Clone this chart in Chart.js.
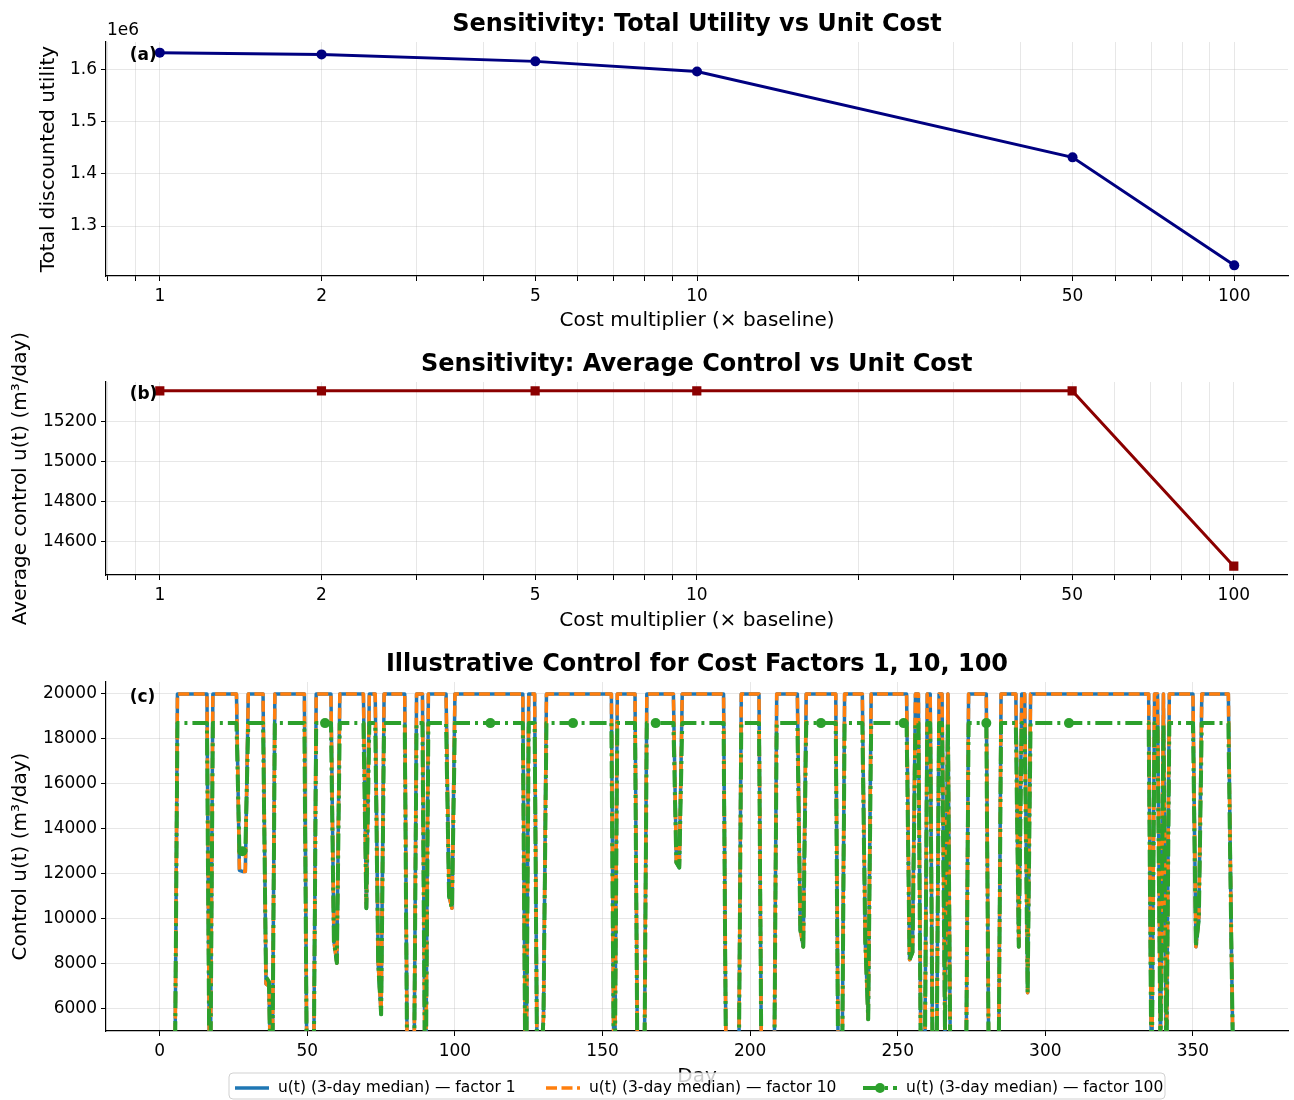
<!DOCTYPE html>
<html>
<head>
<meta charset="utf-8">
<script src="https://cdn.jsdelivr.net/npm/chart.js@4.4.1/dist/chart.umd.min.js"></script>
<style>
  html, body { margin: 0; padding: 0; background: #fff; }
  .panel { position: absolute; left: 0; width: 1294px; }
</style>
</head>
<body>
<div class="panel" style="top:0;height:336px"><canvas id="utilityChart"></canvas></div>
<div class="panel" style="top:320px;height:315px"><canvas id="controlChart"></canvas></div>
<div class="panel" style="top:640px;height:460px"><canvas id="dailyChart"></canvas></div>
<script>
// Sensitivity runs (cost multiplier x baseline)
const costMultipliers = [1, 2, 5, 10, 50, 100];
const totalUtility = [1632000, 1628700, 1615300, 1596000, 1431500, 1224700];
const avgControl = [15354, 15354, 15354, 15354, 15354, 14475];

// Tick labels
const costMajorTicks = [1, 2, 5, 10, 50, 100];
const costMinorTicks = [0.8, 0.9, 3, 4, 6, 7, 8, 9, 20, 30, 40, 60, 70, 80, 90];
const utilityTicks = [1300000, 1400000, 1500000, 1600000];
const avgControlTicks = [14600, 14800, 15000, 15200];
const dayTicks = [0, 50, 100, 150, 200, 250, 300, 350];
const controlTicks = [6000, 8000, 10000, 12000, 14000, 16000, 18000, 20000];

// Daily control u(t), days 0..364 (10 per row)
const controlFactor1 = [
      0,     0,     0,     0,     0,     0, 20000, 20000, 20000, 20000, // 0
  20000, 20000, 20000, 20000, 20000, 20000, 20000,     0, 20000, 20000, // 10
  20000, 20000, 20000, 20000, 20000, 20000, 20000, 12150, 12100, 12100, // 20
  20000, 20000, 20000, 20000, 20000, 20000,  7100,  7000,     0, 20000, // 30
  20000, 20000, 20000, 20000, 20000, 20000, 20000, 20000, 20000, 20000, // 40
      0,     0,     0, 20000, 20000, 20000, 20000, 20000, 20000,  9000, // 50
   8030, 20000, 20000, 20000, 20000, 20000, 20000, 20000, 20000, 20000, // 60
  10460, 20000, 20000, 20000,  8000,  5740, 20000, 20000, 20000, 20000, // 70
  20000, 20000, 20000, 20000,     0,     0,     0, 20000, 20000, 20000, // 80
      0, 20000, 20000, 20000, 20000, 20000, 20000, 20000, 11000, 10460, // 90
  20000, 20000, 20000, 20000, 20000, 20000, 20000, 20000, 20000, 20000, // 100
  20000, 20000, 20000, 20000, 20000, 20000, 20000, 20000, 20000, 20000, // 110
  20000, 20000, 20000, 20000,     0, 20000, 20000, 20000,     0,  3000, // 120
   5600, 20000, 20000, 20000, 20000, 20000, 20000, 20000, 20000, 20000, // 130
  20000, 20000, 20000, 20000, 20000, 20000, 20000, 20000, 20000, 20000, // 140
  20000, 20000, 20000, 20000,     0, 20000, 20000, 20000, 20000, 20000, // 150
  20000, 20000,     0,     0,     0, 20000, 20000, 20000, 20000, 20000, // 160
  20000, 20000, 20000, 20000, 20000, 12500, 12270, 20000, 20000, 20000, // 170
  20000, 20000, 20000, 20000, 20000, 20000, 20000, 20000, 20000, 20000, // 180
  20000, 20000,     0,     0,     0,     0,     0, 20000, 20000, 20000, // 190
  20000, 20000, 20000, 20000,     0,     0,     0,     0,     0, 20000, // 200
  20000, 20000, 20000, 20000, 20000, 20000, 20000,  9500,  8750, 20000, // 210
  20000, 20000, 20000, 20000, 20000, 20000, 20000, 20000, 20000, 20000, // 220
      0,     0, 20000, 20000, 20000, 20000, 20000, 20000, 20000,  9000, // 230
   5520, 20000, 20000, 20000, 20000, 20000, 20000, 20000, 20000, 20000, // 240
  20000, 20000, 20000, 20000,  8170,  8500, 20000, 20000,     0,     0, // 250
  20000, 20000,     0,     0, 20000, 20000,  5000, 20000,     0,     0, // 260
      0,     0,     0,     0, 20000, 20000, 20000, 20000, 20000, 20000, // 270
  20000,     0,     0,     0,     0, 20000, 20000, 20000, 20000, 20000, // 280
  20000,  8750, 20000, 20000,  6700, 20000, 20000, 20000, 20000, 20000, // 290
  20000, 20000, 20000, 20000, 20000, 20000, 20000, 20000, 20000, 20000, // 300
  20000, 20000, 20000, 20000, 20000, 20000, 20000, 20000, 20000, 20000, // 310
  20000, 20000, 20000, 20000, 20000, 20000, 20000, 20000, 20000, 20000, // 320
  20000, 20000, 20000, 20000, 20000, 20000,  2000, 20000, 20000,  4000, // 330
  20000,  3000, 20000, 20000, 20000, 20000, 20000, 20000, 20000, 20000, // 340
  20000,  8750, 10000, 20000, 20000, 20000, 20000, 20000, 20000, 20000, // 350
  20000, 20000, 20000,  9000,     0                                      // 360
];

const controlFactor10 = [
      0,     0,     0,     0,     0,     0, 20000, 20000, 20000, 20000, // 0
  20000, 20000, 20000, 20000, 20000, 20000, 20000,     0, 20000, 20000, // 10
  20000, 20000, 20000, 20000, 20000, 20000, 20000, 12150, 12100, 12100, // 20
  20000, 20000, 20000, 20000, 20000, 20000,  7100,  7000,     0, 20000, // 30
  20000, 20000, 20000, 20000, 20000, 20000, 20000, 20000, 20000, 20000, // 40
      0,     0,     0, 20000, 20000, 20000, 20000, 20000, 20000,  9000, // 50
   8030, 20000, 20000, 20000, 20000, 20000, 20000, 20000, 20000, 20000, // 60
  10460, 20000, 20000, 20000,  8000,  5740, 20000, 20000, 20000, 20000, // 70
  20000, 20000, 20000, 20000,     0,     0,     0, 20000, 20000, 20000, // 80
      0, 20000, 20000, 20000, 20000, 20000, 20000, 20000, 11000, 10460, // 90
  20000, 20000, 20000, 20000, 20000, 20000, 20000, 20000, 20000, 20000, // 100
  20000, 20000, 20000, 20000, 20000, 20000, 20000, 20000, 20000, 20000, // 110
  20000, 20000, 20000, 20000,     0, 20000, 20000, 20000,     0,  3000, // 120
   5600, 20000, 20000, 20000, 20000, 20000, 20000, 20000, 20000, 20000, // 130
  20000, 20000, 20000, 20000, 20000, 20000, 20000, 20000, 20000, 20000, // 140
  20000, 20000, 20000, 20000,     0, 20000, 20000, 20000, 20000, 20000, // 150
  20000, 20000,     0,     0,     0, 20000, 20000, 20000, 20000, 20000, // 160
  20000, 20000, 20000, 20000, 20000, 12500, 12270, 20000, 20000, 20000, // 170
  20000, 20000, 20000, 20000, 20000, 20000, 20000, 20000, 20000, 20000, // 180
  20000, 20000,     0,     0,     0,     0,     0, 20000, 20000, 20000, // 190
  20000, 20000, 20000, 20000,     0,     0,     0,     0,     0, 20000, // 200
  20000, 20000, 20000, 20000, 20000, 20000, 20000,  9500,  8750, 20000, // 210
  20000, 20000, 20000, 20000, 20000, 20000, 20000, 20000, 20000, 20000, // 220
      0,     0, 20000, 20000, 20000, 20000, 20000, 20000, 20000,  9000, // 230
   5520, 20000, 20000, 20000, 20000, 20000, 20000, 20000, 20000, 20000, // 240
  20000, 20000, 20000, 20000,  8170,  8500, 20000, 20000,     0,     0, // 250
  20000, 20000,     0,     0, 20000, 20000,  5000, 20000,     0,     0, // 260
      0,     0,     0,     0, 20000, 20000, 20000, 20000, 20000, 20000, // 270
  20000,     0,     0,     0,     0, 20000, 20000, 20000, 20000, 20000, // 280
  20000,  8750, 20000, 20000,  6700, 20000, 20000, 20000, 20000, 20000, // 290
  20000, 20000, 20000, 20000, 20000, 20000, 20000, 20000, 20000, 20000, // 300
  20000, 20000, 20000, 20000, 20000, 20000, 20000, 20000, 20000, 20000, // 310
  20000, 20000, 20000, 20000, 20000, 20000, 20000, 20000, 20000, 20000, // 320
  20000, 20000, 20000, 20000, 20000, 20000,  2000, 20000, 20000,  4000, // 330
  20000,  3000, 20000, 20000, 20000, 20000, 20000, 20000, 20000, 20000, // 340
  20000,  8750, 10000, 20000, 20000, 20000, 20000, 20000, 20000, 20000, // 350
  20000, 20000, 20000,  9000,     0                                      // 360
];

const controlFactor100 = [
      0,     0,     0,     0,     0,     0, 18700, 18700, 18700, 18700, // 0
  18700, 18700, 18700, 18700, 18700, 18700, 18700,     0, 18700, 18700, // 10
  18700, 18700, 18700, 18700, 18700, 18700, 18700, 13000, 13000, 13000, // 20
  18700, 18700, 18700, 18700, 18700, 18700,  7400,  7200,     0, 18700, // 30
  18700, 18700, 18700, 18700, 18700, 18700, 18700, 18700, 18700, 18700, // 40
      0,     0,     0, 18700, 18700, 18700, 18700, 18700, 18700,  9000, // 50
   8030, 18700, 18700, 18700, 18700, 18700, 18700, 18700, 18700, 18700, // 60
  10460, 18700, 18700, 18700,  8000,  5740, 18700, 18700, 18700, 18700, // 70
  18700, 18700, 18700, 18700,     0,     0,     0, 18700, 18700, 18700, // 80
      0, 18700, 18700, 18700, 18700, 18700, 18700, 18700, 11000, 10460, // 90
  18700, 18700, 18700, 18700, 18700, 18700, 18700, 18700, 18700, 18700, // 100
  18700, 18700, 18700, 18700, 18700, 18700, 18700, 18700, 18700, 18700, // 110
  18700, 18700, 18700, 18700,     0, 18700, 18700, 18700,     0,  3000, // 120
   5600, 18700, 18700, 18700, 18700, 18700, 18700, 18700, 18700, 18700, // 130
  18700, 18700, 18700, 18700, 18700, 18700, 18700, 18700, 18700, 18700, // 140
  18700, 18700, 18700, 18700,     0, 18700, 18700, 18700, 18700, 18700, // 150
  18700, 18700,     0,     0,     0, 18700, 18700, 18700, 18700, 18700, // 160
  18700, 18700, 18700, 18700, 18700, 12500, 12270, 18700, 18700, 18700, // 170
  18700, 18700, 18700, 18700, 18700, 18700, 18700, 18700, 18700, 18700, // 180
  18700, 18700,     0,     0,     0,     0,     0, 18700, 18700, 18700, // 190
  18700, 18700, 18700, 18700,     0,     0,     0,     0,     0, 18700, // 200
  18700, 18700, 18700, 18700, 18700, 18700, 18700,  9500,  8750, 18700, // 210
  18700, 18700, 18700, 18700, 18700, 18700, 18700, 18700, 18700, 18700, // 220
      0,     0, 18700, 18700, 18700, 18700, 18700, 18700, 18700,  9000, // 230
   5520, 18700, 18700, 18700, 18700, 18700, 18700, 18700, 18700, 18700, // 240
  18700, 18700, 18700, 18700,  8170,  8500, 18700, 18700,     0,     0, // 250
  18700, 18700,     0,     0, 18700, 18700,  5000, 18700,     0,     0, // 260
      0,     0,     0,     0, 18700, 18700, 18700, 18700, 18700, 18700, // 270
  18700,     0,     0,     0,     0, 18700, 18700, 18700, 18700, 18700, // 280
  18700,  8750, 18700, 18700,  6700, 18700, 18700, 18700, 18700, 18700, // 290
  18700, 18700, 18700, 18700, 18700, 18700, 18700, 18700, 18700, 18700, // 300
  18700, 18700, 18700, 18700, 18700, 18700, 18700, 18700, 18700, 18700, // 310
  18700, 18700, 18700, 18700, 18700, 18700, 18700, 18700, 18700, 18700, // 320
  18700, 18700, 18700, 18700, 18700, 18700,  2000, 18700, 18700,  4000, // 330
  18700,  3000, 18700, 18700, 18700, 18700, 18700, 18700, 18700, 18700, // 340
  18700,  8750, 10000, 18700, 18700, 18700, 18700, 18700, 18700, 18700, // 350
  18700, 18700, 18700,  9000,     0                                      // 360
];

Chart.defaults.font.family = '"DejaVu Sans", sans-serif';
Chart.defaults.font.size = 17;
Chart.defaults.color = '#000';

const gridColor = 'rgba(176, 176, 176, 0.3)';

// Draws the "(a)" style panel tag and the optional 1e6 offset text
const panelTag = {
    id: 'panelTag',
    afterDatasetsDraw(chart, args, opts) {
        const { ctx, chartArea } = chart;
        const w = chartArea.right - chartArea.left;
        const h = chartArea.bottom - chartArea.top;
        ctx.save();
        ctx.fillStyle = '#000';
        ctx.font = 'bold 17px "DejaVu Sans"';
        ctx.textBaseline = 'top';
        ctx.fillText(opts.text, chartArea.left + 0.02 * w, chartArea.top + 0.02 * h);
        if (opts.offsetText) {
            ctx.font = '17px "DejaVu Sans"';
            ctx.textBaseline = 'bottom';
            ctx.fillText(opts.offsetText, chartArea.left + 1, chartArea.top - 3);
        }
        ctx.restore();
    }
};

// Legend under panel (c), laid out like the matplotlib one
const dayLegend = {
    id: 'dayLegend',
    afterDraw(chart) {
        const ctx = chart.ctx;
        const left = 229, top = 433, right = 1165, bottom = 459, r = 4;
        const midY = 448;
        const handleX = [235, 546, 863];
        ctx.save();
        ctx.beginPath();
        ctx.moveTo(left + r, top);
        ctx.lineTo(right - r, top);
        ctx.arcTo(right, top, right, top + r, r);
        ctx.lineTo(right, bottom - r);
        ctx.arcTo(right, bottom, right - r, bottom, r);
        ctx.lineTo(left + r, bottom);
        ctx.arcTo(left, bottom, left, bottom - r, r);
        ctx.lineTo(left, top + r);
        ctx.arcTo(left, top, left + r, top, r);
        ctx.closePath();
        ctx.fillStyle = 'rgba(255, 255, 255, 0.8)';
        ctx.fill();
        ctx.strokeStyle = 'rgba(204, 204, 204, 0.9)';
        ctx.lineWidth = 1;
        ctx.stroke();

        chart.data.datasets.forEach((ds, i) => {
            const x0 = handleX[i];
            ctx.beginPath();
            ctx.setLineDash(ds.borderDash || []);
            ctx.strokeStyle = ds.borderColor;
            ctx.lineWidth = ds.borderWidth;
            ctx.moveTo(x0, midY);
            ctx.lineTo(x0 + 34, midY);
            ctx.stroke();
            ctx.setLineDash([]);
            if (ds.legendMarker) {
                ctx.beginPath();
                ctx.fillStyle = ds.borderColor;
                ctx.arc(x0 + 17, midY, 5, 0, Math.PI * 2);
                ctx.fill();
            }
            ctx.fillStyle = '#000';
            ctx.font = '15.5px "DejaVu Sans"';
            ctx.textBaseline = 'middle';
            ctx.fillText(ds.label, x0 + 43, midY);
        });
        ctx.restore();
    }
};

function costAxis(titlePad) {
    return {
        type: 'logarithmic',
        min: 0.794,
        max: 125.9,
        afterFit: (scale) => { scale.height = 60; },
        afterBuildTicks: (scale) => {
            scale.ticks = costMinorTicks.concat(costMajorTicks)
                .sort((a, b) => a - b)
                .map(v => ({ value: v }));
        },
        ticks: {
            autoSkip: false,
            maxRotation: 0,
            padding: 5,
            callback: (v) => costMajorTicks.includes(v) ? String(v) : ''
        },
        grid: { color: gridColor, lineWidth: 1, tickLength: 5, tickColor: '#000', tickWidth: 1 },
        border: { color: '#000', width: 1.2 },
        title: { display: true, text: 'Cost multiplier (× baseline)', font: { size: 20 },
                 padding: { top: 0, bottom: titlePad } }
    };
}

function valueAxis(min, max, tickValues, label, titlePad, fmt) {
    return {
        min: min,
        max: max,
        afterFit: (scale) => { scale.width = 100; },
        afterBuildTicks: (scale) => { scale.ticks = tickValues.map(v => ({ value: v })); },
        ticks: { padding: 4, callback: fmt },
        grid: { color: gridColor, lineWidth: 1, tickLength: 5, tickColor: '#000', tickWidth: 1 },
        border: { color: '#000', width: 1.2 },
        title: { display: true, text: label, font: { size: 20 }, padding: { top: titlePad, bottom: 0 } }
    };
}

// Title centred over the plot area, not the whole canvas
function titleBlock(text) {
    return {
        display: true,
        fullSize: false,
        text: text,
        font: { size: 24, weight: 'bold' },
        color: '#000',
        padding: { top: 10.6, bottom: 2.6 }
    };
}

// (a) total utility
new Chart(document.getElementById('utilityChart'), {
    type: 'line',
    data: {
        datasets: [{
            label: 'Total discounted utility',
            data: costMultipliers.map((m, i) => ({ x: m, y: totalUtility[i] })),
            borderColor: '#000080',
            backgroundColor: '#000080',
            borderWidth: 3,
            pointRadius: 5,
            pointBorderWidth: 0,
            tension: 0
        }]
    },
    options: {
        responsive: true,
        maintainAspectRatio: false,
        animation: false,
        events: [],
        layout: { padding: { left: 6, right: 6, top: 0, bottom: 0 } },
        scales: {
            x: costAxis(3),
            y: valueAxis(1204300, 1652400, utilityTicks, 'Total discounted utility', 31,
                (v) => (v / 1e6).toFixed(1))
        },
        plugins: {
            legend: { display: false },
            tooltip: { enabled: false },
            title: titleBlock('Sensitivity: Total Utility vs Unit Cost'),
            panelTag: { text: '(a)', offsetText: '1e6' }
        }
    },
    plugins: [panelTag]
});

// (b) average control; canvas starts 20px higher so the long y label fits
new Chart(document.getElementById('controlChart'), {
    type: 'line',
    data: {
        datasets: [{
            label: 'Average control',
            data: costMultipliers.map((m, i) => ({ x: m, y: avgControl[i] })),
            borderColor: '#8b0000',
            backgroundColor: '#8b0000',
            borderWidth: 3,
            pointStyle: 'rect',
            pointRadius: 6.5,
            pointBorderWidth: 0,
            tension: 0
        }]
    },
    options: {
        responsive: true,
        maintainAspectRatio: false,
        animation: false,
        events: [],
        layout: { padding: { left: 6, right: 6, top: 20, bottom: 0 } },
        scales: {
            x: costAxis(2),
            y: valueAxis(14431, 15398, avgControlTicks, 'Average control u(t) (m³/day)', 3,
                (v) => String(v))
        },
        plugins: {
            legend: { display: false },
            tooltip: { enabled: false },
            title: titleBlock('Sensitivity: Average Control vs Unit Cost'),
            panelTag: { text: '(b)' }
        }
    },
    plugins: [panelTag]
});

// (c) daily control for three cost factors
const days = controlFactor1.map((_, i) => i);

new Chart(document.getElementById('dailyChart'), {
    type: 'line',
    data: {
        datasets: [{
            label: 'u(t) (3-day median) — factor 1',
            data: days.map((d, i) => ({ x: d, y: controlFactor1[i] })),
            borderColor: '#1f77b4',
            borderWidth: 3.5,
            pointRadius: 0,
            borderJoinStyle: 'round',
            order: 3
        }, {
            label: 'u(t) (3-day median) — factor 10',
            data: days.map((d, i) => ({ x: d, y: controlFactor10[i] })),
            borderColor: '#ff7f0e',
            borderWidth: 3.5,
            borderDash: [11, 4.5],
            pointRadius: 0,
            borderJoinStyle: 'round',
            order: 2
        }, {
            label: 'u(t) (3-day median) — factor 100',
            data: days.map((d, i) => ({ x: d, y: controlFactor100[i] })),
            borderColor: '#2ca02c',
            backgroundColor: '#2ca02c',
            borderWidth: 4,
            borderDash: [17, 5, 3, 5],
            pointRadius: (c) => (c.dataIndex % 28 === 0 ? 5 : 0),
            pointBorderWidth: 0,
            borderJoinStyle: 'round',
            legendMarker: true,
            order: 1
        }]
    },
    options: {
        responsive: true,
        maintainAspectRatio: false,
        animation: false,
        events: [],
        layout: { padding: { left: 6, right: 6, top: 0, bottom: 9 } },
        scales: {
            x: {
                type: 'linear',
                min: -18.2,
                max: 382.2,
                afterFit: (scale) => { scale.height = 60; },
                afterBuildTicks: (scale) => { scale.ticks = dayTicks.map(v => ({ value: v })); },
                ticks: { autoSkip: false, maxRotation: 0, padding: 5, callback: (v) => String(v) },
                grid: { color: gridColor, lineWidth: 1, tickLength: 5, tickColor: '#000', tickWidth: 1 },
                border: { color: '#000', width: 1.2 },
                title: { display: true, text: 'Day', font: { size: 20 }, padding: { top: 0, bottom: 2 } }
            },
            y: valueAxis(5000, 20530, controlTicks, 'Control u(t) (m³/day)', 3, (v) => String(v))
        },
        plugins: {
            legend: { display: false },
            tooltip: { enabled: false },
            title: titleBlock('Illustrative Control for Cost Factors 1, 10, 100'),
            panelTag: { text: '(c)' }
        }
    },
    plugins: [panelTag, dayLegend]
});
</script>
</body>
</html>
